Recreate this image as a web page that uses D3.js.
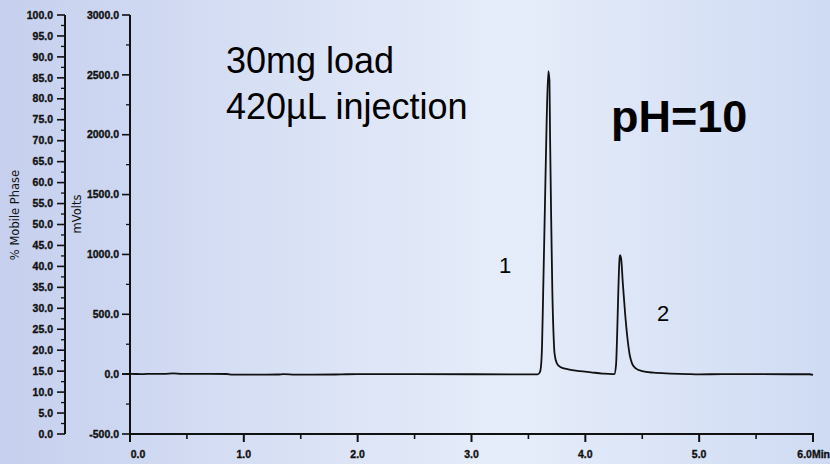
<!DOCTYPE html>
<html lang="en">
<head>
  <meta charset="UTF-8">
  <title>Chromatogram pH=10</title>
  <script src="https://cdn.jsdelivr.net/npm/d3@7"></script>
  <style>
  html, body { margin: 0; padding: 0; }
  body { width: 830px; height: 464px; overflow: hidden; }
  .tick-label { font-family: "Liberation Sans", Arial, sans-serif; font-weight: bold; font-size: 10.5px; fill: #111; stroke: #111; stroke-width: 0.35px; }
  .axis-title { font-family: "DejaVu Sans", sans-serif; font-size: 11.5px; fill: #111; }
  .note { font-family: "Liberation Sans", Arial, sans-serif; fill: #000; }
  </style>
</head>
<body>
<svg id="chart" width="830" height="464"></svg>
<script>
// retention time (min) / detector signal (mV)
const traceTime = [
  -0.07, 0.00, 0.10, 0.20, 0.30, 0.38, 0.45, 0.60, 0.85, 0.90, 1.20, 1.30, 1.35, 1.45, 1.80, 1.90, 2.00,
  2.50, 3.00, 3.40, 3.58, 3.60, 3.61, 3.62, 3.63, 3.645, 3.66, 3.675, 3.685, 3.69, 3.70, 3.71, 3.72,
  3.73, 3.75, 3.78, 3.85, 3.95, 4.05, 4.15, 4.24, 4.255, 4.27, 4.28, 4.29, 4.30, 4.305, 4.315, 4.33,
  4.35, 4.37, 4.39, 4.41, 4.44, 4.50, 4.60, 4.75, 4.90, 5.00, 5.20, 5.50, 5.80, 5.97, 6.00
];
const traceMv = [
  0, 2, 0, 3, 2, 6, 3, 2, 1, -4, -4, -3, 0, -4, -3, -1, 0,
  0, -1, -2, -2, 15, 60, 250, 700, 1400, 2100, 2530, 2450, 2000, 1300, 700, 350,
  170, 90, 60, 40, 25, 15, 5, 0, 0, 80, 350, 700, 960, 995, 960, 750,
  500, 300, 160, 90, 50, 25, 12, 5, 0, -2, 0, 0, -1, -1, -6
];
const mvTicks = [-500, 0, 500, 1000, 1500, 2000, 2500, 3000];
const pctTicks = [0, 5, 10, 15, 20, 25, 30, 35, 40, 45, 50, 55, 60, 65, 70, 75, 80, 85, 90, 95, 100];
const timeTicks = [0, 1, 2, 3, 4, 5, 6];
const peakLabels = ["1", "2"];
const notes = ["30mg load", "420\u00b5L injection"];

const svg = d3.select('#chart');
const fmt = d => d3.format('.1f')(d).replace('\u2212', '-');

// background wash
const defs = svg.append('defs');
const grad = defs.append('linearGradient').attr('id', 'bg').attr('x1', 0).attr('x2', 1).attr('y1', 0).attr('y2', 0);
grad.append('stop').attr('offset', '0%').attr('stop-color', '#c6d0ee');
grad.append('stop').attr('offset', '35%').attr('stop-color', '#d9e1f5');
grad.append('stop').attr('offset', '62%').attr('stop-color', '#e6edfa');
grad.append('stop').attr('offset', '100%').attr('stop-color', '#cfdbf3');
svg.append('rect').attr('width', 830).attr('height', 464).attr('fill', 'url(#bg)');

const x = d3.scaleLinear().domain([0, 6]).range([130, 813]);
const yMv = d3.scaleLinear().domain([-500, 3000]).range([434, 15]);
const yPct = d3.scaleLinear().domain([0, 100]).range([434, 15]);

const ink = '#111';

// % mobile phase axis
const pctAxis = svg.append('g').attr('transform', 'translate(65,0)');
pctAxis.append('line').attr('y1', yPct(0)).attr('y2', yPct(100)).attr('stroke', ink).attr('stroke-width', 2);
pctAxis.selectAll('.minor').data(d3.range(0, 100, 2.5).filter(v => v % 5 !== 0))
  .join('line').attr('x1', -4).attr('x2', 0).attr('y1', d => yPct(d)).attr('y2', d => yPct(d))
  .attr('stroke', ink).attr('stroke-width', 1.3);
pctAxis.selectAll('.major').data(pctTicks)
  .join('line').attr('x1', -8).attr('x2', 0).attr('y1', d => yPct(d)).attr('y2', d => yPct(d))
  .attr('stroke', ink).attr('stroke-width', 1.6);
pctAxis.selectAll('text').data(pctTicks)
  .join('text').attr('class', 'tick-label').attr('x', -12).attr('y', d => yPct(d)).attr('dy', '0.35em')
  .attr('text-anchor', 'end').text(fmt);

// mVolts axis
const mvAxis = svg.append('g').attr('transform', 'translate(130,0)');
mvAxis.append('line').attr('y1', yMv(-500) + 8).attr('y2', yMv(3000)).attr('stroke', ink).attr('stroke-width', 2);
mvAxis.selectAll('.minor').data(d3.range(-250, 3000, 500))
  .join('line').attr('x1', -4).attr('x2', 0).attr('y1', d => yMv(d)).attr('y2', d => yMv(d))
  .attr('stroke', ink).attr('stroke-width', 1.3);
mvAxis.selectAll('.major').data(mvTicks)
  .join('line').attr('x1', -8).attr('x2', 0).attr('y1', d => yMv(d)).attr('y2', d => yMv(d))
  .attr('stroke', ink).attr('stroke-width', 1.6);
mvAxis.selectAll('text').data(mvTicks)
  .join('text').attr('class', 'tick-label').attr('x', -11).attr('y', d => yMv(d)).attr('dy', '0.35em')
  .attr('text-anchor', 'end').text(fmt);

// time axis
const tAxis = svg.append('g').attr('transform', `translate(0,${yMv(-500)})`);
tAxis.append('line').attr('x1', x(0)).attr('x2', x(6) + 1).attr('stroke', ink).attr('stroke-width', 2);
tAxis.selectAll('.minor').data(d3.range(0.5, 6, 1))
  .join('line').attr('x1', d => x(d)).attr('x2', d => x(d)).attr('y1', 0).attr('y2', 5)
  .attr('stroke', ink).attr('stroke-width', 1.6);
tAxis.selectAll('.major').data(timeTicks)
  .join('line').attr('x1', d => x(d)).attr('x2', d => x(d)).attr('y1', 0).attr('y2', 8)
  .attr('stroke', ink).attr('stroke-width', 2);
tAxis.selectAll('text').data(timeTicks)
  .join('text').attr('class', 'tick-label').attr('y', 24)
  .attr('x', (d, i) => i === 0 ? x(d) + 8 : (i === timeTicks.length - 1 ? 830 : x(d)))
  .attr('text-anchor', (d, i) => i === timeTicks.length - 1 ? 'end' : 'middle')
  .text((d, i) => fmt(d) + (i === timeTicks.length - 1 ? 'Min' : ''));

// axis titles
svg.append('text').attr('class', 'axis-title').attr('transform', 'translate(19,215) rotate(-90)')
  .attr('text-anchor', 'middle').text('% Mobile Phase');
svg.append('text').attr('class', 'axis-title').attr('transform', 'translate(81,214) rotate(-90)')
  .attr('text-anchor', 'middle').text('mVolts');

// trace
const trace = d3.zip(traceTime, traceMv);
const line = d3.line().x(d => x(d[0])).y(d => yMv(d[1])).curve(d3.curveMonotoneX);
svg.append('path').datum(trace).attr('d', line)
  .attr('fill', 'none').attr('stroke', ink).attr('stroke-width', 1.8).attr('stroke-linejoin', 'round');

// annotations
svg.selectAll('.note-line').data(notes)
  .join('text').attr('class', 'note').attr('x', 226).attr('y', (d, i) => 73 + i * 46)
  .attr('font-size', 36).text(d => d);
svg.append('text').attr('class', 'note').attr('x', 611).attr('y', 132)
  .attr('font-size', 45).attr('font-weight', 'bold').text('pH=10');

const peakPos = [[499, 273], [657, 321]];
svg.selectAll('.peak').data(peakLabels)
  .join('text').attr('class', 'note').attr('font-size', 22)
  .attr('x', (d, i) => peakPos[i][0]).attr('y', (d, i) => peakPos[i][1]).text(d => d);
</script>
</body>
</html>
